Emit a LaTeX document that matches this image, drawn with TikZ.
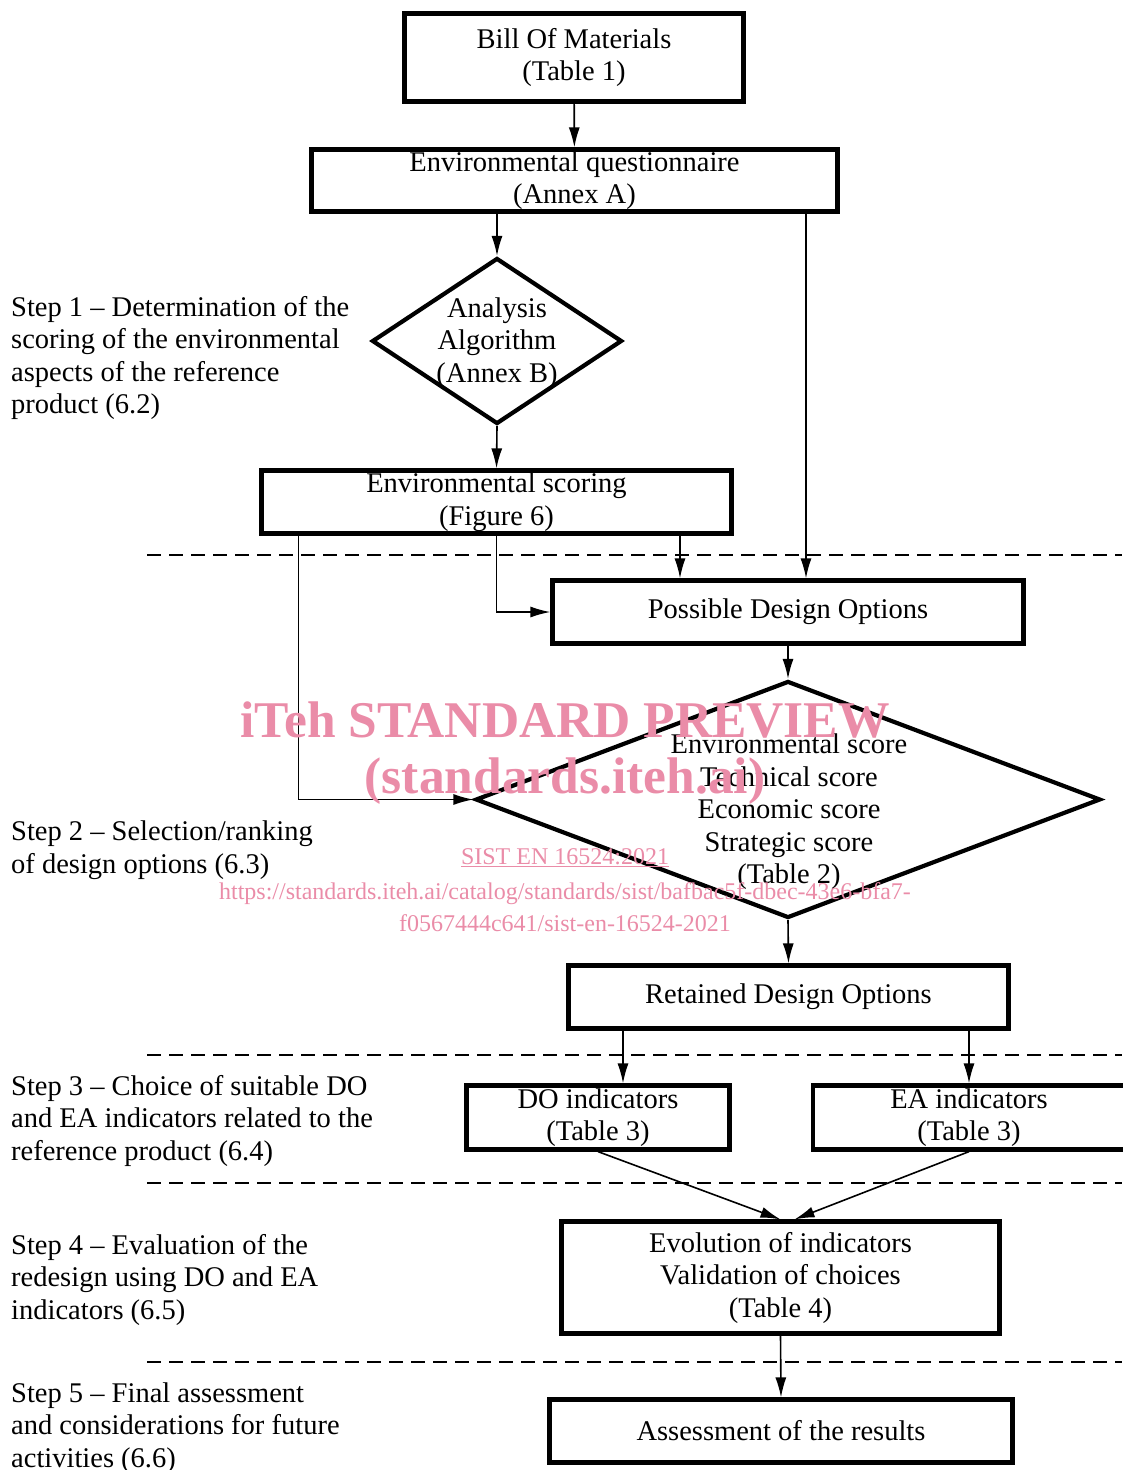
\documentclass[tikz,border=0pt]{standalone}
\usepackage{fontspec}
\setmainfont{Liberation Serif}
\usetikzlibrary{shapes.geometric,arrows.meta}
\definecolor{itehpink}{RGB}{234,140,168}
\begin{document}
\begin{tikzpicture}
    [
    x=1pt,y=-1pt,
    every node/.style={font=\fontsize{28.5pt}{32.5pt}\selectfont},
    block/.style={rectangle,draw,line width=4.2pt,inner sep=0pt,align=center},
    decision/.style={diamond,draw,line width=4.2pt,inner sep=0pt},
    steplabel/.style={anchor=west,align=left,inner sep=0pt},
    flow/.style={line width=1.6pt,-{Latex[length=20pt,width=11pt]}},
    divider/.style={line width=1.8pt,dash pattern=on 14pt off 8pt},
    stamp/.style={text=itehpink,inner sep=0pt,align=center}
    ]
    \useasboundingbox (0,0) rectangle (1122,1470);
    \node (bom) at (574,57.5) [block,minimum width=339pt,minimum height=88pt] {Bill Of Materials\\(Table 1)};
    \node (quest) at (574.5,180.5) [block,minimum width=526pt,minimum height=62pt] {Environmental questionnaire\\(Annex A)};
    \node (algo) at (497,341) [decision,minimum width=250pt,minimum height=166pt] {};
    \node (algotext) at (497,343) [align=center] {Analysis\\Algorithm\\(Annex B)};
    \node (score) at (496.5,502) [block,minimum width=470pt,minimum height=63pt] {Environmental scoring\\(Figure 6)};
    \node (pdo) at (788,612) [block,minimum width=471pt,minimum height=63pt] {Possible Design Options};
    \node (rank) at (788,799.5) [decision,minimum width=625pt,minimum height=237pt] {};
    \node (ranktext) at (789,812) [align=center] {Environmental score\\Technical score\\Economic score\\Strategic score\\(Table 2)};
    \node (ret) at (788.5,997) [block,minimum width=440pt,minimum height=63pt] {Retained Design Options};
    \node (do) at (598,1117.5) [block,minimum width=263pt,minimum height=64pt] {DO indicators\\(Table 3)};
    \node (ea) at (969,1117.5) [block,minimum width=312pt,minimum height=64pt] {EA indicators\\(Table 3)};
    \node (evo) at (780.5,1277.5) [block,minimum width=438pt,minimum height=112pt] {Evolution of indicators\\Validation of choices\\(Table 4)};
    \node (assess) at (781,1431) [block,minimum width=463pt,minimum height=63pt] {Assessment of the results};
    \node (step1) at (11,358) [steplabel] {Step 1 -- Determination of the\\scoring of the environmental\\aspects of the reference\\product (6.2)};
    \node (step2) at (11,850) [steplabel] {Step 2 -- Selection/ranking\\of design options (6.3)};
    \node (step3) at (11,1120.5) [steplabel] {Step 3 -- Choice of suitable DO\\and EA indicators related to the\\reference product (6.4)};
    \node (step4) at (11,1279.5) [steplabel] {Step 4 -- Evaluation of the\\redesign using DO and EA\\indicators (6.5)};
    \node (step5) at (11,1428) [steplabel] {Step 5 -- Final assessment\\and considerations for future\\activities (6.6)};
    \coordinate (questin) at ([xshift=18pt]pdo.north);
    \coordinate (scorein) at ([xshift=-108pt]pdo.north);
    \coordinate (scoreout) at ([xshift=39pt]score.south west);
    \coordinate (doin) at ([xshift=25pt]do.north);
    \coordinate (evoin) at ([xshift=14pt]evo.north);
    \draw [flow] (bom) -- (quest);
    \draw [flow] (algo.north |- quest.south) -- (algo.north);
    \draw [flow] (questin |- quest.south) -- (questin);
    \draw [flow] (algo.south) -- (score.north);
    \draw [flow] (scoreout) |- (rank.west);
    \draw [flow] (score.south) |- (pdo.west);
    \draw [flow] (scorein |- score.south) -- (scorein);
    \draw [flow] (pdo.south) -- (rank.north);
    \draw [flow] (rank.south) -- (ret.north);
    \draw [flow] (doin |- ret.south) -- (doin);
    \draw [flow] (ea.north |- ret.south) -- (ea.north);
    \draw [flow] (do.south) -- (evo.north);
    \draw [flow] (ea.south) -- (evoin);
    \draw [flow] (evo.south) -- (assess.north);
    \draw [divider] (147,555) -- (1122,555);
    \draw [divider] (147,1055) -- (1122,1055);
    \draw [divider] (147,1183) -- (1122,1183);
    \draw [divider] (147,1362) -- (1122,1362);
    \node (wm1) at (565,720) [stamp,font=\bfseries\fontsize{51.5pt}{60pt}\selectfont] {iTeh STANDARD PREVIEW};
    \node (wm2) at (565,781) [stamp,font=\bfseries\fontsize{51.5pt}{60pt}\selectfont] {(standards.iteh.ai)};
    \node (wm3) at (565,858) [stamp,font=\fontsize{24pt}{28pt}\selectfont] {\underline{SIST EN 16524:2021}};
    \node (wm4) at (565,907) [stamp,font=\fontsize{24pt}{32pt}\selectfont] {https://standards.iteh.ai/catalog/standards/sist/bafbac5f-dbec-43e6-bfa7-\\f0567444c641/sist-en-16524-2021};
\end{tikzpicture}
\end{document}
